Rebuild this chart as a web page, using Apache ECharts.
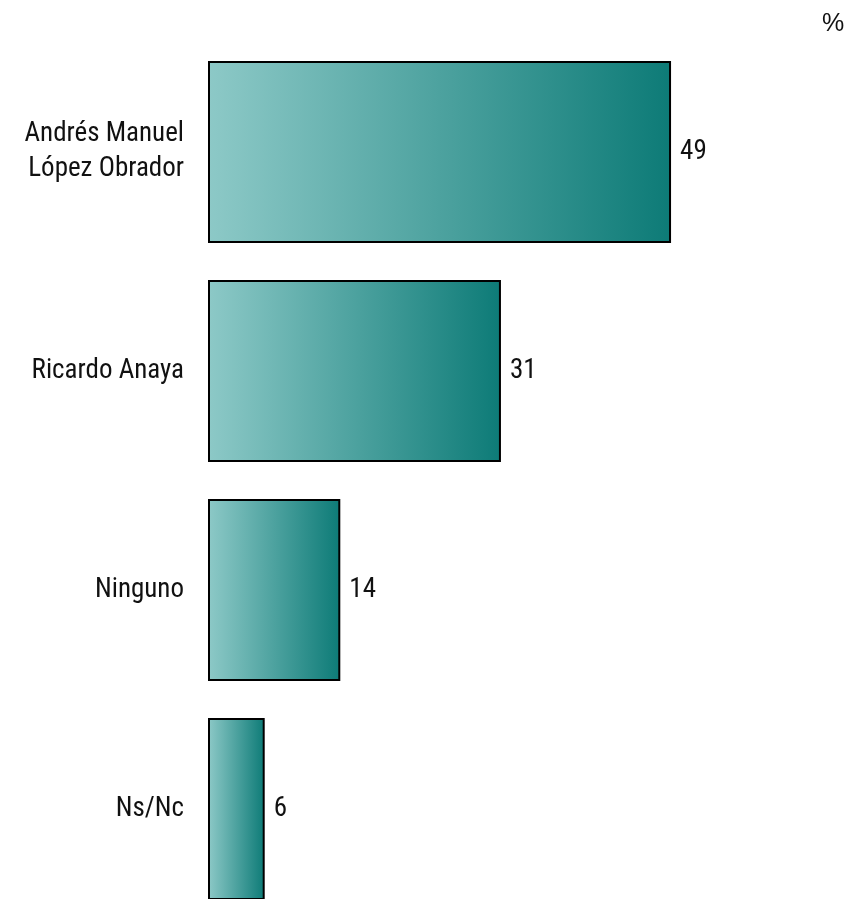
<!DOCTYPE html>
<html><head><meta charset="utf-8">
<script src="https://cdn.jsdelivr.net/npm/echarts@6/dist/echarts.min.js"></script>
<style>html,body{margin:0;padding:0;background:#fff;overflow:hidden}#c{width:850px;height:960px}</style>
</head><body><div id="c"></div>
<script>
const categories = ["Andrés Manuel\nLópez Obrador", "Ricardo Anaya", "Ninguno", "Ns/Nc"];
const values = [49, 31, 14, 6];
const unitLabel = "%";

const chart = echarts.init(document.getElementById('c'));
const font = '"Roboto Condensed", "Liberation Sans Narrow", sans-serif';
chart.setOption({
  animation: false,
  grid: { left: 208, top: 42.5, width: 567, height: 876, containLabel: false },
  graphic: [{ type: 'text', left: 822, top: 12, style: { text: unitLabel, font: '25px "Liberation Sans", sans-serif', fill: '#111' } }],
  xAxis: { type: 'value', min: 0, max: 60, show: false },
  yAxis: {
    type: 'category', data: categories, inverse: true,
    axisLine: { show: false }, axisTick: { show: false },
    axisLabel: { fontFamily: font, fontSize: 27, color: '#111', margin: 24, lineHeight: 35 }
  },
  series: [{
    type: 'bar', data: values, barWidth: 182,
    itemStyle: {
      borderColor: '#000', borderWidth: 2,
      color: new echarts.graphic.LinearGradient(0, 0, 1, 0, [
        { offset: 0, color: '#8dc9c7' }, { offset: 1, color: '#0d7b77' }
      ])
    },
    label: { show: true, position: 'right', distance: 9, fontFamily: font, fontSize: 27, color: '#111' }
  }]
});
</script></body></html>
